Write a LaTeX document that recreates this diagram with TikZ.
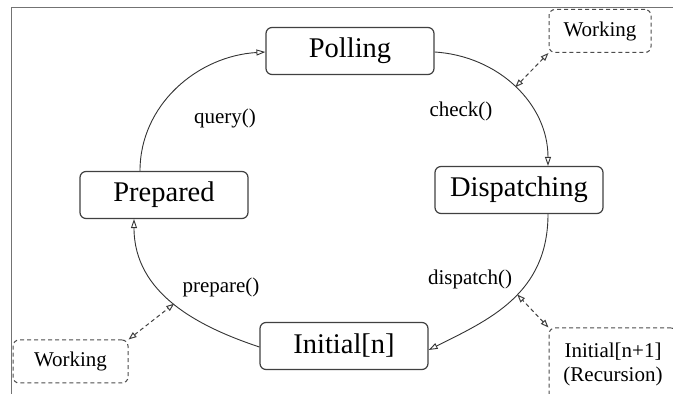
\documentclass[tikz,border=0pt]{standalone}
\usepackage{fontspec}
\setmainfont{Liberation Serif}
\usetikzlibrary{arrows.meta}
\begin{document}
\begin{tikzpicture}[x=1pt,y=1pt,
  state/.style={draw=black!75,line width=1.2pt,rounded corners=6pt,minimum width=168pt,minimum height=47pt,inner sep=0pt,font=\fontsize{28.5}{30}\selectfont},
  aux/.style={draw=black!70,line width=1pt,dashed,dash pattern=on 4pt off 3pt,rounded corners=6pt,inner sep=0pt,font=\fontsize{21}{24}\selectfont,align=center},
  lbl/.style={font=\fontsize{21}{24}\selectfont,inner sep=0pt},
  trans/.style={draw=black!80,line width=0.9pt,-{Triangle[open,length=9pt,width=6pt]}},
  link/.style={draw=black!75,line width=1pt,dashed,dash pattern=on 4pt off 3pt,{Triangle[open,length=8pt,width=6pt]}-{Triangle[open,length=8pt,width=6pt]}}
]
\clip (0,0) rectangle (673,394);
\useasboundingbox (0,0) rectangle (673,394);
\draw[black!55,line width=1.4pt] (11.5,0) -- (11.5,386.5) -- (673,386.5);

\node[state] (poll) at (350,343) {Polling};
\node[state] (disp) at (519,204) {Dispatching};
\node[state] (prep) at (164,199) {Prepared};
\node[state] (init) at (344,48) {Initial[n]};

\node[aux,minimum width=102pt,minimum height=43pt] (wtr) at (600,363) {Working};
\node[aux,minimum width=115pt,minimum height=43pt] (wbl) at (70.5,32.5) {Working};
\node[aux,minimum width=128pt,minimum height=72pt] (rec) at (613,30) {Initial[n+1]\\(Recursion)};

\draw[trans] ([xshift=-24pt]prep.north) .. controls +(0,66) and +(-68,-4) .. ([yshift=-1pt]poll.west);
\draw[trans] ([yshift=-1pt]poll.east) .. controls +(64,-4) and +(0,62) .. coordinate[pos=0.5] (cc) ([xshift=29pt]disp.north);
\draw[trans] ([xshift=29pt]disp.south) .. controls +(0,-80) and +(60,30) .. coordinate[pos=0.45] (cd) ([yshift=-4pt]init.east);
\draw[trans] ([yshift=-1pt]init.west) .. controls +(-60,20) and +(0,-75) .. coordinate[pos=0.5] (cp) ([xshift=-30pt]prep.south);

\node[lbl] (lq) at (225,276) {query()};
\node[lbl] (lc) at (461,283) {check()};
\node[lbl] (ld) at (470,115) {dispatch()};
\node[lbl] (lp) at (221,107) {prepare()};

\draw[link] (wtr.south west) -- (cc);
\draw[link] (wbl.north east) -- (cp);
\draw[link] (rec.north west) -- (cd);
\end{tikzpicture}
\end{document}
